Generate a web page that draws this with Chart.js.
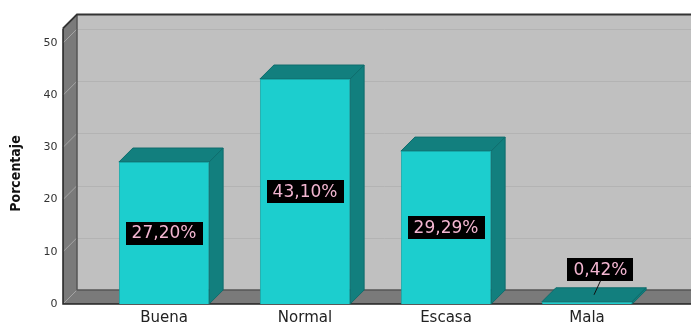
<!DOCTYPE html>
<html>
<head>
<meta charset="utf-8">
<script src="https://cdn.jsdelivr.net/npm/chart.js@4"></script>
<style>
  body { margin: 0; background: #fff; }
</style>
</head>
<body>
<canvas id="grafico" width="691" height="323"></canvas>
<script>
const categorias = ['Buena', 'Normal', 'Escasa', 'Mala'];
const porcentajes = [27.20, 43.10, 29.29, 0.42];
const marcasY = [0, 10, 20, 30, 40, 50];

const PROF_X = 14, PROF_Y = 14;   // profundidad del efecto 3D
const MURO_IZQ = 30.5;            // separación del muro izquierdo respecto al área de barras
const TECHO = 52.8;               // altura de los muros, en unidades del eje Y

function fmt(v) {
    return v.toFixed(2).replace('.', ',') + '%';
}

function poligono(ctx, pts, relleno, trazo, grosor) {
    ctx.beginPath();
    ctx.moveTo(pts[0][0], pts[0][1]);
    for (let i = 1; i < pts.length; i++) ctx.lineTo(pts[i][0], pts[i][1]);
    ctx.closePath();
    if (relleno) { ctx.fillStyle = relleno; ctx.fill(); }
    if (trazo) { ctx.strokeStyle = trazo; ctx.lineWidth = grosor || 1; ctx.stroke(); }
}

function linea(ctx, pts, color, grosor) {
    ctx.beginPath();
    ctx.moveTo(pts[0][0], pts[0][1]);
    for (let i = 1; i < pts.length; i++) ctx.lineTo(pts[i][0], pts[i][1]);
    ctx.strokeStyle = color;
    ctx.lineWidth = grosor || 1;
    ctx.stroke();
}

const efecto3D = {
    id: 'efecto3D',
    beforeDatasetsDraw(chart) {
        const ctx = chart.ctx;
        const ey = chart.scales.y;
        const x0 = chart.chartArea.left - MURO_IZQ;
        const x1 = chart.width + PROF_X;
        const base = ey.getPixelForValue(0);
        const techo = ey.getPixelForValue(TECHO);
        ctx.save();

        // muro del fondo y su rejilla
        ctx.fillStyle = '#c0c0c0';
        ctx.fillRect(x0 + PROF_X, techo - PROF_Y, x1 - x0, base - techo);
        marcasY.forEach(v => {
            if (v === 0) return;
            const py = Math.round(ey.getPixelForValue(v) - PROF_Y) + 0.5;
            linea(ctx, [[x0 + PROF_X, py], [x1, py]], '#b3b3b3', 1);
        });

        // muro izquierdo y suelo
        poligono(ctx, [[x0, techo], [x0 + PROF_X, techo - PROF_Y], [x0 + PROF_X, base - PROF_Y], [x0, base]], '#7a7a7a');
        poligono(ctx, [[x0, base], [x0 + PROF_X, base - PROF_Y], [x1, base - PROF_Y], [x1, base]], '#7a7a7a');
        marcasY.forEach(v => {
            const py = ey.getPixelForValue(v);
            linea(ctx, [[x0, py], [x0 + PROF_X, py - PROF_Y]], '#a4a4a4', 1);
        });

        // bordes
        linea(ctx, [[x0 + PROF_X, techo - PROF_Y], [x0 + PROF_X, base - PROF_Y], [x1, base - PROF_Y]], '#555', 1.5);
        linea(ctx, [[x0, techo], [x0 + PROF_X, techo - PROF_Y], [x1, techo - PROF_Y]], '#333', 2);
        linea(ctx, [[x0, techo], [x0, base], [x1, base]], '#222', 1.5);

        // caras superior y lateral de cada barra
        chart.getDatasetMeta(0).data.forEach(bar => {
            const p = bar.getProps(['x', 'y', 'base', 'width'], true);
            const l = p.x - p.width / 2, r = p.x + p.width / 2;
            poligono(ctx, [[l, p.y], [l + PROF_X, p.y - PROF_Y], [r + PROF_X, p.y - PROF_Y], [r, p.y]], '#127f7e', '#0f6d6d', 1);
            poligono(ctx, [[r, p.y], [r + PROF_X, p.y - PROF_Y], [r + PROF_X, p.base - PROF_Y], [r, p.base]], '#127f7e', '#0f6d6d', 1);
        });
        ctx.restore();
    },
    afterDatasetsDraw(chart) {
        const ctx = chart.ctx;
        const meta = chart.getDatasetMeta(0);
        ctx.save();
        ctx.font = '17px "DejaVu Sans"';
        ctx.textAlign = 'center';
        ctx.textBaseline = 'middle';
        meta.data.forEach((bar, i) => {
            const p = bar.getProps(['x', 'y', 'base'], true);
            const texto = fmt(porcentajes[i]);
            const ancho = ctx.measureText(texto).width + 12;
            const alto = 23;
            let cx = p.x, cy = (p.y + p.base) / 2;
            if (p.base - p.y < 30) {
                // barra muy baja: etiqueta por encima con línea guía
                const ax = p.x + PROF_X / 2, ay = p.y - PROF_Y / 2;
                cx = p.x + 13.5;
                cy = p.y - 32.5;
                linea(ctx, [[ax, ay], [cx, cy + alto / 2]], '#111', 1);
            }
            ctx.fillStyle = '#000';
            ctx.fillRect(Math.round(cx - ancho / 2), Math.round(cy - alto / 2), Math.round(ancho), alto);
            ctx.fillStyle = '#f2b5d0';
            ctx.fillText(texto, cx, cy + 1);
        });
        ctx.restore();
    }
};

new Chart(document.getElementById('grafico'), {
    type: 'bar',
    data: {
        labels: categorias,
        datasets: [
            {
                data: porcentajes,
                backgroundColor: '#1ccece',
                borderColor: '#17a9a9',
                borderWidth: 1,
                barPercentage: 0.64,
                categoryPercentage: 1,
            },
        ],
    },
    options: {
        responsive: false,
        animation: false,
        layout: {
            padding: { top: 43, right: 33.5, bottom: 0, left: 0 },
        },
        plugins: {
            legend: { display: false },
            tooltip: { enabled: false },
        },
        scales: {
            x: {
                grid: { display: false, drawTicks: false },
                border: { display: false },
                ticks: {
                    color: '#222',
                    padding: 5,
                    font: { family: 'DejaVu Sans', size: 15 },
                },
                afterFit(s) { s.height = 19; },
            },
            y: {
                min: 0,
                max: 50,
                grid: { display: false, drawTicks: false },
                border: { display: false },
                ticks: {
                    stepSize: 10,
                    padding: 36,
                    color: '#333',
                    font: { family: 'DejaVu Sans', size: 11 },
                },
                title: {
                    display: true,
                    text: 'Porcentaje',
                    color: '#111',
                    padding: { top: 8, bottom: 0 },
                    font: { family: '"DejaVu Sans Condensed", "Liberation Sans"', size: 14, weight: 'bold' },
                },
                afterFit(s) {
                    s.width = 93.5;
                    // el relleno de las marcas no debe reservar espacio vertical
                    s.paddingTop = 0;
                    s.paddingBottom = 0;
                },
            },
        },
    },
    plugins: [efecto3D],
});
</script>
</body>
</html>
